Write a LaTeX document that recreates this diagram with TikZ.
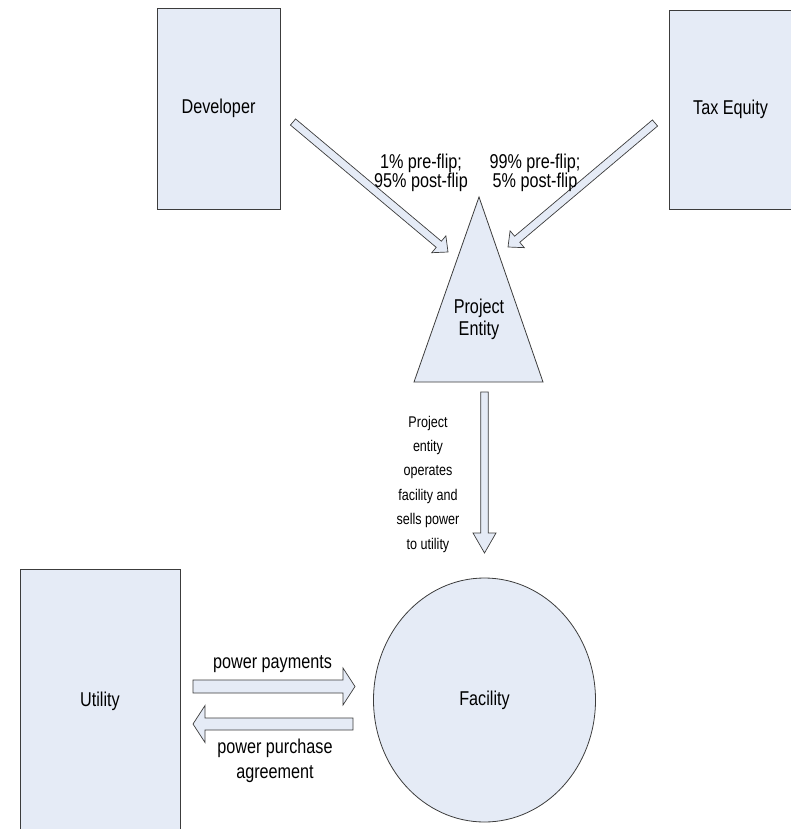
\documentclass[tikz,border=0pt]{standalone}
\usepackage{fontspec}
\setmainfont{Liberation Sans}
\usepackage{graphicx}
\usetikzlibrary{calc, shapes.geometric}

\definecolor{boxfill}{RGB}{229,235,246}
\definecolor{boxline}{RGB}{60,60,60}

% narrow text
\newcommand{\nrw}[1]{\scalebox{0.81}[1]{#1}}
% hollow block arrow: tail, tip, half shaft, half head, head length
\newcommand{\fatarrow}[5]{%
  \coordinate (fa-h) at ($(#2)!#5!(#1)$);
  \draw[fat] ($(#1)!#3!90:(#2)$) -- ($(fa-h)!#3!90:(#2)$) -- ($(fa-h)!#4!90:(#2)$) -- (#2)
    -- ($(fa-h)!#4!-90:(#2)$) -- ($(fa-h)!#3!-90:(#2)$) -- ($(#1)!#3!-90:(#2)$) -- cycle;
}

\begin{document}
\begin{tikzpicture}[x=1pt, y=-1pt,
    box/.style={draw=boxline, fill=boxfill, line width=0.8pt, inner sep=0pt,
      font=\fontsize{20}{22}\selectfont},
    fat/.style={draw=boxline, fill=boxfill, line width=0.7pt, line join=miter},
    lbl/.style={font=\fontsize{20}{19.5}\selectfont, align=center, inner sep=0pt},
    small/.style={font=\fontsize{15.5}{24.4}\selectfont, align=center, inner sep=0pt}]
  \useasboundingbox (0,0) rectangle (790,829);

  % owners
  \node[box, minimum width=123pt, minimum height=201pt] (dev) at (218.5,108.5) {\nrw{Developer}};
  \node[box, minimum width=123pt, minimum height=199pt] (tax) at (730.5,109.5) {\nrw{Tax Equity}};

  % project entity
  \coordinate (apex) at (479,197);
  \coordinate (baseR) at (543,382);
  \coordinate (baseL) at (414,382);
  \draw[fat, line width=0.8pt] (apex) -- (baseR) -- (baseL) -- cycle;
  \node[lbl, font=\fontsize{20}{22}\selectfont] (proj) at (479,319) {\nrw{Project}\\\nrw{Entity}};

  % facility and utility
  \node[box, ellipse, minimum width=222pt, minimum height=244pt] (fac) at (484.5,700) {\nrw{Facility}};
  \node[box, minimum width=160pt, minimum height=264pt] (util) at (100,701) {\nrw{Utility}};

  % arrow ends
  \coordinate (devtail) at (293,122);
  \coordinate (devtip) at (448,252);
  \coordinate (taxtail) at (655,123);
  \coordinate (taxtip) at (508,247);
  \coordinate (downtail) at (484.5,392);
  \coordinate (downtip) at (484.5,553);
  \coordinate (paytail) at (193,686.5);
  \coordinate (paytip) at (355,686.5);
  \coordinate (ppatail) at (353,724);
  \coordinate (ppatip) at (193,724);

  \fatarrow{devtail}{devtip}{4pt}{11pt}{12pt}
  \fatarrow{taxtail}{taxtip}{4pt}{11pt}{12pt}
  \fatarrow{downtail}{downtip}{3.8pt}{11.5pt}{20pt}
  \fatarrow{paytail}{paytip}{6.5pt}{18.5pt}{12pt}
  \fatarrow{ppatail}{ppatip}{6pt}{18.5pt}{12pt}

  % labels
  \node[lbl] (devshare) at (421,173) {\nrw{1\% pre-flip;}\\\nrw{95\% post-flip}};
  \node[lbl] (taxshare) at (535,173) {\nrw{99\% pre-flip;}\\\nrw{5\% post-flip}};
  \node[small] (ops) at (428,484) {\nrw{Project}\\\nrw{entity}\\\nrw{operates}\\\nrw{facility and}\\\nrw{sells power}\\\nrw{to utility}};
  \node[lbl] (pay) at (272.5,664) {\nrw{power payments}};
  \node[lbl, font=\fontsize{20}{25}\selectfont] (ppa) at (275,761) {\nrw{power purchase}\\\nrw{agreement}};
\end{tikzpicture}
\end{document}
